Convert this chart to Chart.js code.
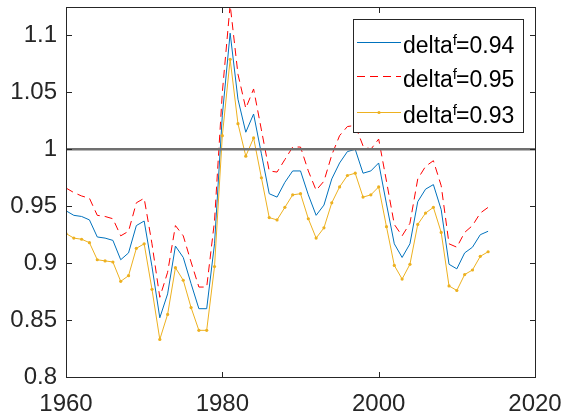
<!DOCTYPE html>
<html lang="en">
<head>
  <meta charset="UTF-8">
  <title>delta f comparison</title>
  <script src="https://cdn.jsdelivr.net/npm/chart.js"></script>
  <style>
    body { margin: 0; background: #fff; }
    #chart { display: block; }
  </style>
</head>
<body>
  <canvas id="chart" width="565" height="416"></canvas>
  <script>
    // data, one value per year 1960..2014
    const years = [];
    for (let y = 1960; y <= 2014; y++) years.push(y);

    const delta094 = [0.946, 0.942, 0.941, 0.938, 0.923, 0.922, 0.920, 0.903, 0.909, 0.933,
      0.937, 0.897, 0.852, 0.873, 0.915, 0.905, 0.882, 0.860, 0.860, 0.917,
      1.030, 1.102, 1.044, 1.015, 1.031, 0.996, 0.961, 0.958, 0.971, 0.981,
      0.981, 0.960, 0.942, 0.951, 0.974, 0.988, 0.998, 1.000, 0.979, 0.981,
      0.988, 0.952, 0.917, 0.905, 0.917, 0.954, 0.965, 0.969, 0.947, 0.899,
      0.895, 0.909, 0.914, 0.925, 0.928];
    const delta095 = [0.966, 0.962, 0.959, 0.957, 0.942, 0.941, 0.939, 0.924, 0.928, 0.953,
      0.957, 0.917, 0.870, 0.892, 0.933, 0.924, 0.901, 0.879, 0.879, 0.937,
      1.050, 1.127, 1.066, 1.036, 1.053, 1.017, 0.981, 0.980, 0.991, 1.002,
      1.002, 0.981, 0.964, 0.972, 0.995, 1.012, 1.020, 1.021, 1.003, 1.000,
      1.009, 0.972, 0.934, 0.924, 0.935, 0.974, 0.985, 0.990, 0.968, 0.917,
      0.914, 0.927, 0.933, 0.944, 0.949];
    const delta093 = [0.926, 0.922, 0.921, 0.918, 0.903, 0.902, 0.901, 0.884, 0.889, 0.913,
      0.917, 0.877, 0.833, 0.855, 0.896, 0.885, 0.861, 0.841, 0.841, 0.897,
      1.012, 1.079, 1.0225, 0.994, 1.010, 0.975, 0.940, 0.938, 0.949, 0.960,
      0.961, 0.939, 0.922, 0.931, 0.953, 0.967, 0.977, 0.979, 0.958, 0.960,
      0.967, 0.932, 0.898, 0.886, 0.899, 0.934, 0.944, 0.949, 0.927, 0.880,
      0.876, 0.890, 0.894, 0.906, 0.910];

    const refLevel = 1;
    const xRange = [1960, 2020];
    const yRange = [0.8, 1.125];
    const xTicks = [1960, 1980, 2000, 2020];
    const yTicks = [0.8, 0.85, 0.9, 0.95, 1, 1.05, 1.1];

    const seriesNames = ["0.94", "0.95", "0.93"];
    const colors = ["#0072BD", "#FF0000", "#EDB120"];

    const pts = vals => vals.map((v, i) => ({ x: years[i], y: v }));
    const axisColor = "#262626";
    const fontFamily = "'Liberation Sans', Arial, sans-serif";

    // box with inward ticks on all four sides (as filled 1px strips), then the legend
    const framePlugin = {
      id: "plotFrame",
      afterDraw(chart) {
        const ctx = chart.ctx;
        const xs = chart.scales.x, ys = chart.scales.y;
        const l = Math.round(xs.getPixelForValue(xRange[0]));
        const r = Math.round(xs.getPixelForValue(xRange[1]));
        const t = Math.round(ys.getPixelForValue(yRange[1]));
        const b = Math.round(ys.getPixelForValue(yRange[0]));
        ctx.save();
        ctx.fillStyle = axisColor;
        ctx.fillRect(l, t, r - l + 1, 1);
        ctx.fillRect(l, b, r - l + 1, 1);
        ctx.fillRect(l, t, 1, b - t + 1);
        ctx.fillRect(r, t, 1, b - t + 1);
        xTicks.forEach(v => {
          const x = Math.round(xs.getPixelForValue(v));
          ctx.fillRect(x, b - 5, 1, 5);
          ctx.fillRect(x, t + 1, 1, 5);
        });
        yTicks.forEach(v => {
          const y = Math.round(ys.getPixelForValue(v));
          ctx.fillRect(l + 1, y, 5, 1);
          ctx.fillRect(r - 5, y, 5, 1);
        });

        const box = { x: 353, y: 19, w: 170, h: 113 };
        const rows = [42, 76, 112];
        ctx.fillStyle = "#fff";
        ctx.fillRect(box.x, box.y, box.w, box.h);
        ctx.strokeStyle = axisColor;
        ctx.lineWidth = 1;
        ctx.strokeRect(box.x + 0.5, box.y + 0.5, box.w, box.h);
        rows.forEach((ry, i) => {
          const ds = chart.data.datasets[i];
          ctx.strokeStyle = ds.borderColor;
          ctx.lineWidth = 1;
          ctx.setLineDash(ds.borderDash || []);
          ctx.beginPath();
          ctx.moveTo(357, ry + 0.5);
          ctx.lineTo(401, ry + 0.5);
          ctx.stroke();
          ctx.setLineDash([]);
          if (ds.pointRadius) {
            ctx.fillStyle = ds.borderColor;
            ctx.beginPath();
            ctx.arc(379, ry + 0.5, 1.6, 0, Math.PI * 2);
            ctx.fill();
          }
          ctx.fillStyle = "#000";
          ctx.textBaseline = "alphabetic";
          let x = 403;
          ctx.font = "23px " + fontFamily;
          ctx.fillText("delta", x, ry + 11);
          x += ctx.measureText("delta").width;
          ctx.font = "15px " + fontFamily;
          ctx.fillText("f", x, ry + 3);
          x += ctx.measureText("f").width - 1;
          ctx.font = "23px " + fontFamily;
          ctx.fillText("=" + seriesNames[i], x, ry + 11);
        });
        ctx.restore();
      }
    };

    new Chart(document.getElementById("chart"), {
      type: "line",
      data: {
        datasets: [
          {
            label: "delta f=" + seriesNames[0],
            data: pts(delta094),
            borderColor: colors[0],
            borderWidth: 1,
            pointRadius: 0,
            order: 3
          },
          {
            label: "delta f=" + seriesNames[1],
            data: pts(delta095),
            borderColor: colors[1],
            borderWidth: 1,
            borderDash: [8, 5],
            pointRadius: 0,
            order: 2
          },
          {
            label: "delta f=" + seriesNames[2],
            data: pts(delta093),
            borderColor: colors[2],
            backgroundColor: colors[2],
            borderWidth: 1,
            pointRadius: 1.6,
            pointBorderWidth: 0,
            order: 1
          },
          {
            label: "ref",
            data: xRange.map(x => ({ x: x, y: refLevel })),
            borderColor: "#707070",
            borderWidth: 2.5,
            pointRadius: 0,
            order: 0
          }
        ]
      },
      options: {
        responsive: false,
        animation: false,
        events: [],
        layout: { padding: { top: 7, right: 30, bottom: 0, left: 0 } },
        plugins: {
          legend: { display: false },
          tooltip: { enabled: false }
        },
        scales: {
          x: {
            type: "linear",
            min: xRange[0],
            max: xRange[1],
            grid: { display: false, drawTicks: false },
            border: { display: false },
            afterBuildTicks: s => { s.ticks = xTicks.map(v => ({ value: v })); },
            afterFit: s => { s.height = 39; s.paddingLeft = 0; s.paddingRight = 0; },
            ticks: {
              padding: 13,
              color: axisColor,
              maxRotation: 0,
              font: { family: fontFamily, size: 24 },
              callback: v => String(v)
            }
          },
          y: {
            min: yRange[0],
            max: yRange[1],
            grid: { display: false, drawTicks: false },
            border: { display: false },
            afterBuildTicks: s => { s.ticks = yTicks.map(v => ({ value: v })); },
            afterFit: s => { s.width = 66; s.paddingTop = 0; s.paddingBottom = 0; },
            ticks: {
              padding: 9,
              color: axisColor,
              font: { family: fontFamily, size: 24 },
              callback: v => String(+Number(v).toFixed(2))
            }
          }
        }
      },
      plugins: [framePlugin]
    });
  </script>
</body>
</html>
